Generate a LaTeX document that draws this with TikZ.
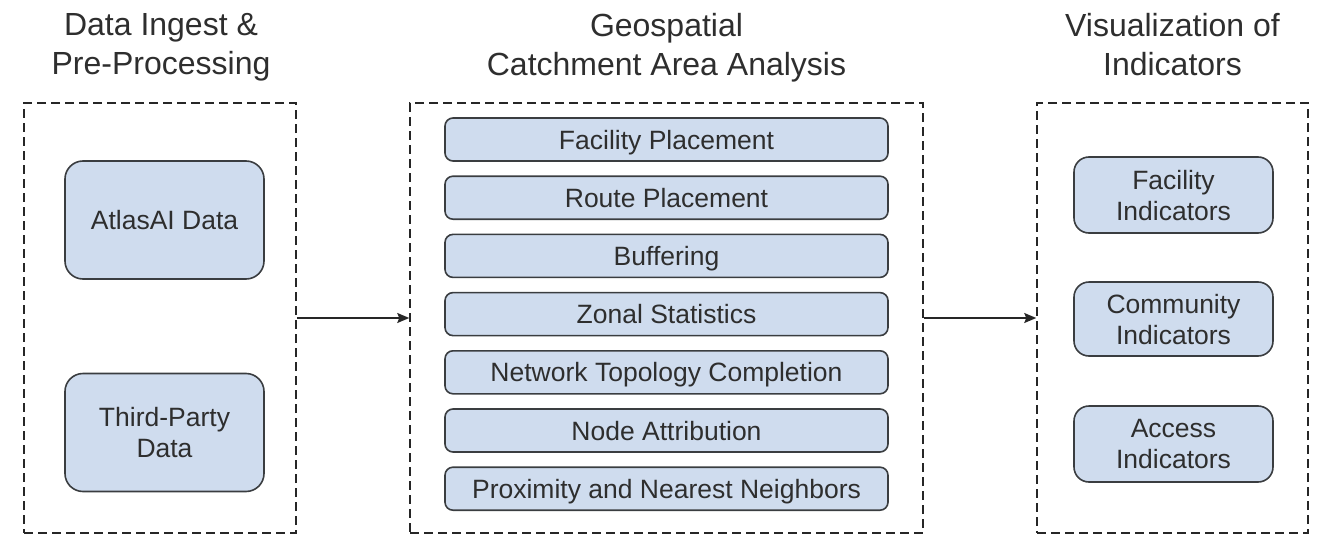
\documentclass[tikz,border=0pt]{standalone}
\usepackage{fontspec}
\setmainfont{Liberation Sans}
\usetikzlibrary{arrows.meta}
\definecolor{boxfill}{HTML}{CFDCEE}
\definecolor{boxdraw}{HTML}{3A3D40}
\definecolor{txt}{HTML}{2E2E2E}
\begin{document}
\begin{tikzpicture}[x=1pt,y=-1pt,
 panel/.style={draw=black!85, line width=1.5pt, dash pattern=on 9pt off 5pt, minimum height=430pt, inner sep=0pt},
 title/.style={font=\fontsize{32}{38.5}\selectfont, text=txt, align=center, anchor=north, inner sep=0pt},
 item/.style={draw=boxdraw, fill=boxfill, line width=1.6pt, text=txt, align=center, font=\fontsize{26.5}{31}\selectfont, inner sep=0pt, minimum width=199pt, text depth=0pt},
 oneline/.style={text height=19pt},
 bigitem/.style={item, rounded corners=18pt, minimum height=118pt},
 ind/.style={item, rounded corners=15pt, minimum height=76pt},
 stepbar/.style={item, oneline, rounded corners=8pt, minimum width=443pt, minimum height=43pt},
 conn/.style={line width=1.5pt, draw=black!85, -{Stealth[length=12pt,width=10pt,inset=2pt]}}]
\useasboundingbox (0,0) rectangle (1317,535);
% titles
\node[title] (t1) at (161,13.5) {Data Ingest \&\\Pre-Processing};
\node[title] (t2) at (666.5,13.5) {Geospatial\\Catchment Area Analysis};
\node[title] (t3) at (1172.5,13.5) {Visualization of\\Indicators};
% panels
\node[panel, minimum width=272pt] (p1) at (160,318) {};
\node[panel, minimum width=513pt] (p2) at (666.5,318) {};
\node[panel, minimum width=271pt] (p3) at (1172.5,318) {};
% left items
\node[bigitem, oneline] (atlas) at (164.5,220) {AtlasAI Data};
\node[bigitem] (third) at (164.5,432.5) {Third-Party\\Data};
% middle items
\node[stepbar] (s1) at (666.5,139.5) {Facility Placement};
\node[stepbar] (s2) at (666.5,197.7) {Route Placement};
\node[stepbar] (s3) at (666.5,255.9) {Buffering};
\node[stepbar] (s4) at (666.5,314.1) {Zonal Statistics};
\node[stepbar] (s5) at (666.5,372.3) {Network Topology Completion};
\node[stepbar] (s6) at (666.5,430.5) {Node Attribution};
\node[stepbar] (s7) at (666.5,488.7) {Proximity and Nearest Neighbors};
% right items
\node[ind] (fac) at (1173.5,195) {Facility\\Indicators};
\node[ind, minimum height=74pt] (com) at (1173.5,319) {Community\\Indicators};
\node[ind] (acc) at (1173.5,444) {Access\\Indicators};
% connectors
\draw[conn] (p1.east) -- (p2.west);
\draw[conn] (p2.east) -- (p3.west);
\end{tikzpicture}
\end{document}
